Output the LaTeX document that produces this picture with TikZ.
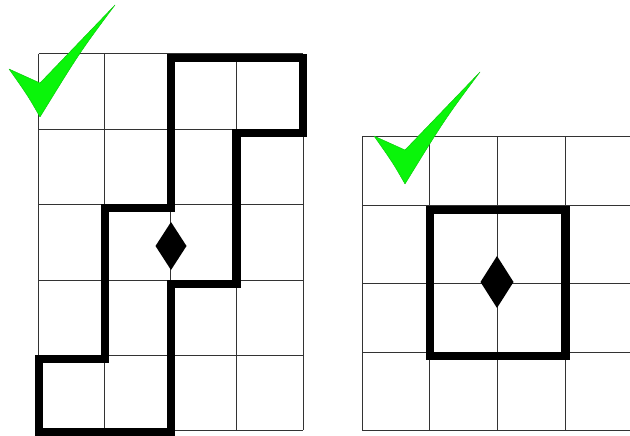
\documentclass[tikz,border=0pt]{standalone}
\begin{document}
\begin{tikzpicture}[x=1pt,y=-1pt,
  gridline/.style={draw=black!80,line width=1pt},
  thickline/.style={draw=black,line width=8.5pt,line join=miter},
  diam/.style={fill=black},
  chk/.style={fill=chkgreen,draw=chkgreen!80!black,line width=0.4pt,line join=round}]
\definecolor{chkgreen}{RGB}{10,245,10}
\useasboundingbox (0,0) rectangle (630,436);
% left grid
\foreach \x in {38.5,104.5,170.5,236.5,303} \draw[gridline] (\x,54) -- (\x,430);
\foreach \y in {54,129.5,204,280,355,430} \draw[gridline] (38.5,\y) -- (303,\y);
% right grid
\foreach \x in {362,429.5,497.5,565} \draw[gridline] (\x,136.7) -- (\x,430);
\foreach \y in {136.7,205.7,283.3,352,430} \draw[gridline] (362,\y) -- (632,\y);
% thick outlines
\draw[thickline] (171,58) -- (303,58) -- (303,133) -- (236.5,133) -- (236.5,284) -- (171,284) -- (171,432) -- (39,432) -- (39,359) -- (105,359) -- (105,208) -- (171,208) -- cycle;
\draw[thickline] (430,210) rectangle (565.5,356);
% diamonds
\fill[diam] (171,222) -- (186.5,246) -- (171,270) -- (155.5,246) -- cycle;
\fill[diam] (497,256) -- (513.5,282) -- (497,308) -- (480.5,282) -- cycle;
% checks
\foreach \sx/\sy in {0/0,365/67}{
  \begin{scope}[shift={(\sx,\sy)}]
  \filldraw[chk] (9,69) -- (40,83) -- (115,5) .. controls (80,52) .. (40,117) .. controls (28,96) .. (9,69) -- cycle;
  \end{scope}
}
\end{tikzpicture}
\end{document}
